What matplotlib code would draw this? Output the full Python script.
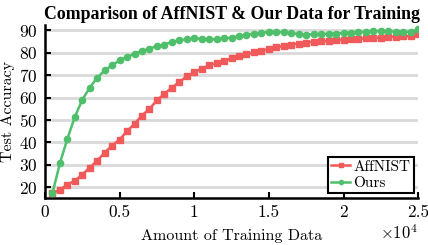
import numpy as np
import matplotlib
matplotlib.use('Agg')
import matplotlib.pyplot as plt

plt.rcParams['font.family'] = ['cmr10', 'DejaVu Serif']
plt.rcParams['mathtext.fontset'] = 'cm'
plt.rcParams['axes.formatter.use_mathtext'] = True

# amount of training data
x = np.arange(500, 25001, 500)

# test accuracy, AffNIST training set
affnist = [17.4, 19.0, 21.2, 23.0, 25.7, 28.8, 31.9, 35.5, 38.6, 41.3,
           45.0, 48.3, 52.0, 55.0, 58.7, 61.7, 64.4, 66.9, 69.4, 71.3,
           72.9, 74.3, 75.4, 76.4, 77.4, 78.4, 79.3, 80.1, 80.8, 81.6,
           82.3, 83.0, 83.6, 84.0, 84.5, 84.8, 85.1, 85.3, 85.5, 85.7,
           85.9, 86.1, 86.3, 86.5, 86.7, 86.9, 87.1, 87.2, 87.4, 88.4]

# test accuracy, our data
ours = [17.3, 30.7, 41.6, 51.3, 59.0, 64.4, 68.8, 72.1, 74.3, 76.6,
        78.0, 79.6, 80.7, 81.8, 82.8, 83.6, 84.7, 85.5, 85.9, 86.3,
        86.2, 85.9, 85.9, 86.3, 86.7, 87.3, 88.0, 88.5, 88.9, 89.3,
        89.3, 89.0, 88.8, 88.2, 88.0, 88.2, 88.2, 88.5, 88.5, 88.8,
        88.9, 89.2, 89.2, 89.5, 89.5, 89.5, 89.3, 89.3, 89.3, 90.3]

xticks = [0, 5000, 10000, 15000, 20000, 25000]
xticklabels = ['0', '0.5', '1', '1.5', '2', '2.5']
yticks = [20, 30, 40, 50, 60, 70, 80, 90]

red = '#f05a5a'
green = '#4fbf6c'

fig = plt.figure(figsize=(4.28, 2.45), dpi=100)
ax = fig.add_axes([0.105, 0.192, 0.872, 0.706])

for yt in yticks:
    ax.axhline(yt, color='#d9d9d9', linewidth=2, zorder=0)

ax.plot(x, affnist, color=red, marker='s', markersize=4, linewidth=1.8,
        label='AffNIST', zorder=2)
ax.plot(x, ours, color=green, marker='o', markersize=4.5, linewidth=1.8,
        label='Ours', zorder=3)

ax.set_xlim(0, 25000)
ax.set_ylim(15.3, 92.3)
ax.set_xticks(xticks)
ax.set_xticklabels(xticklabels)
ax.set_yticks(yticks)
ax.tick_params(direction='in', length=4, width=1.5, labelsize=12.5, pad=5)

for s in ['top', 'right']:
    ax.spines[s].set_visible(False)
for s in ['left', 'bottom']:
    ax.spines[s].set_linewidth(1.8)

ax.set_xlabel('Amount of Training Data', fontsize=11.5, labelpad=6)
ax.set_ylabel('Test Accuracy', fontsize=11.5, labelpad=3)
ax.set_title('Comparison of AffNIST & Our Data for Training',
             family='Liberation Serif', weight='bold', fontsize=12.8, pad=4)
ax.text(1.0, -0.2, r'$\times10^4$', transform=ax.transAxes, ha='right',
        va='center', fontsize=12)

leg = ax.legend(loc='lower right', fontsize=11, handlelength=1.3,
                handletextpad=0.2, borderpad=0.2, labelspacing=0.2,
                fancybox=False, framealpha=1, borderaxespad=0.3)
leg.get_frame().set_edgecolor('black')
leg.get_frame().set_linewidth(1.5)
for h in leg.legend_handles:
    h.set_markersize(3)

fig.savefig('out.png', dpi=100)
